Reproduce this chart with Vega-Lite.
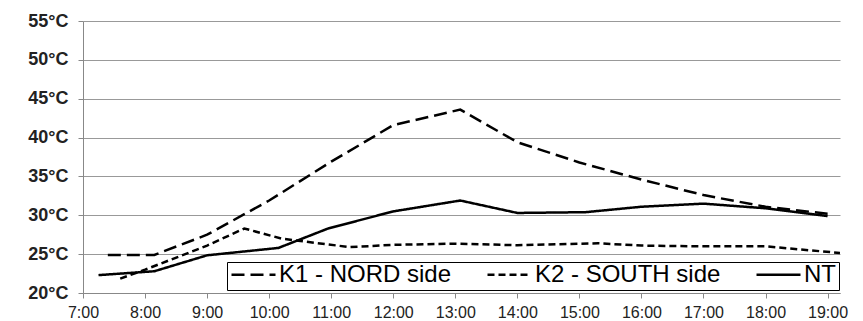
{
  "$schema": "https://vega.github.io/schema/vega-lite/v6.json",
  "width": 757,
  "height": 272,
  "autosize": {"type": "none"},
  "padding": {"left": 83, "top": 21, "right": 23, "bottom": 28},
  "background": "white",
  "config": {"view": {"stroke": null}, "font": "Liberation Sans"},
  "data": {
    "values": [
      {"s": "K1 - NORD side", "t": 7.4, "v": 24.9},
      {"s": "K1 - NORD side", "t": 8.15, "v": 24.9},
      {"s": "K1 - NORD side", "t": 9.0, "v": 27.5},
      {"s": "K1 - NORD side", "t": 10.0, "v": 31.9},
      {"s": "K1 - NORD side", "t": 11.0, "v": 36.9},
      {"s": "K1 - NORD side", "t": 12.0, "v": 41.6},
      {"s": "K1 - NORD side", "t": 13.08, "v": 43.6},
      {"s": "K1 - NORD side", "t": 14.0, "v": 39.4},
      {"s": "K1 - NORD side", "t": 15.0, "v": 36.8},
      {"s": "K1 - NORD side", "t": 16.0, "v": 34.6},
      {"s": "K1 - NORD side", "t": 17.0, "v": 32.6},
      {"s": "K1 - NORD side", "t": 18.0, "v": 31.1},
      {"s": "K1 - NORD side", "t": 19.0, "v": 30.2},
      {"s": "K2 - SOUTH side", "t": 7.6, "v": 21.85},
      {"s": "K2 - SOUTH side", "t": 8.0, "v": 23.0},
      {"s": "K2 - SOUTH side", "t": 9.0, "v": 26.1},
      {"s": "K2 - SOUTH side", "t": 9.6, "v": 28.3},
      {"s": "K2 - SOUTH side", "t": 10.2, "v": 27.0},
      {"s": "K2 - SOUTH side", "t": 11.3, "v": 25.9},
      {"s": "K2 - SOUTH side", "t": 12.0, "v": 26.2},
      {"s": "K2 - SOUTH side", "t": 13.0, "v": 26.35},
      {"s": "K2 - SOUTH side", "t": 14.0, "v": 26.15},
      {"s": "K2 - SOUTH side", "t": 15.3, "v": 26.4},
      {"s": "K2 - SOUTH side", "t": 16.0, "v": 26.1},
      {"s": "K2 - SOUTH side", "t": 17.0, "v": 26.0},
      {"s": "K2 - SOUTH side", "t": 18.0, "v": 26.0},
      {"s": "K2 - SOUTH side", "t": 19.2, "v": 25.15},
      {"s": "NT", "t": 7.25, "v": 22.3},
      {"s": "NT", "t": 8.15, "v": 22.8},
      {"s": "NT", "t": 9.0, "v": 24.85},
      {"s": "NT", "t": 10.15, "v": 25.8},
      {"s": "NT", "t": 10.95, "v": 28.3},
      {"s": "NT", "t": 12.0, "v": 30.5},
      {"s": "NT", "t": 13.08, "v": 31.9},
      {"s": "NT", "t": 14.0, "v": 30.3},
      {"s": "NT", "t": 15.1, "v": 30.4},
      {"s": "NT", "t": 16.0, "v": 31.1},
      {"s": "NT", "t": 17.0, "v": 31.5},
      {"s": "NT", "t": 18.0, "v": 30.9},
      {"s": "NT", "t": 19.0, "v": 29.9}
    ]
  },
  "mark": {"type": "line", "color": "black", "strokeWidth": 2.5, "clip": true},
  "encoding": {
    "x": {
      "field": "t",
      "type": "quantitative",
      "scale": {"domain": [7, 19.2], "nice": false, "zero": false},
      "axis": {
        "values": [7, 8, 9, 10, 11, 12, 13, 14, 15, 16, 17, 18, 19],
        "labelExpr": "datum.value + ':00'",
        "title": null,
        "grid": false,
        "domainColor": "#888888",
        "tickColor": "#888888",
        "tickSize": 5,
        "labelFontSize": 16,
        "labelColor": "#222222",
        "labelPadding": 6,
        "labelFlush": false
      }
    },
    "y": {
      "field": "v",
      "type": "quantitative",
      "scale": {"domain": [20, 55], "nice": false, "zero": false},
      "axis": {
        "values": [20, 25, 30, 35, 40, 45, 50, 55],
        "labelExpr": "datum.value + '°C'",
        "title": null,
        "grid": true,
        "gridColor": "#999999",
        "domainColor": "#888888",
        "tickColor": "#888888",
        "tickSize": 5,
        "labelFontSize": 18,
        "labelFontWeight": "bold",
        "labelColor": "#222222",
        "labelPadding": 10
      }
    },
    "strokeDash": {
      "field": "s",
      "type": "nominal",
      "scale": {
        "domain": ["K1 - NORD side", "K2 - SOUTH side", "NT"],
        "range": [[13, 6], [7, 4], [1, 0]]
      },
      "legend": {
        "title": null,
        "orient": "none",
        "legendX": 144,
        "legendY": 241,
        "direction": "horizontal",
        "symbolType": "stroke",
        "symbolSize": 1936,
        "symbolStrokeWidth": 2.5,
        "symbolStrokeColor": "black",
        "labelFontSize": 24,
        "labelLimit": 0,
        "labelColor": "black",
        "strokeColor": "black",
        "fillColor": "white",
        "padding": 3,
        "columnPadding": 34,
        "labelOffset": 2,
        "clipHeight": 19
      }
    }
  }
}
